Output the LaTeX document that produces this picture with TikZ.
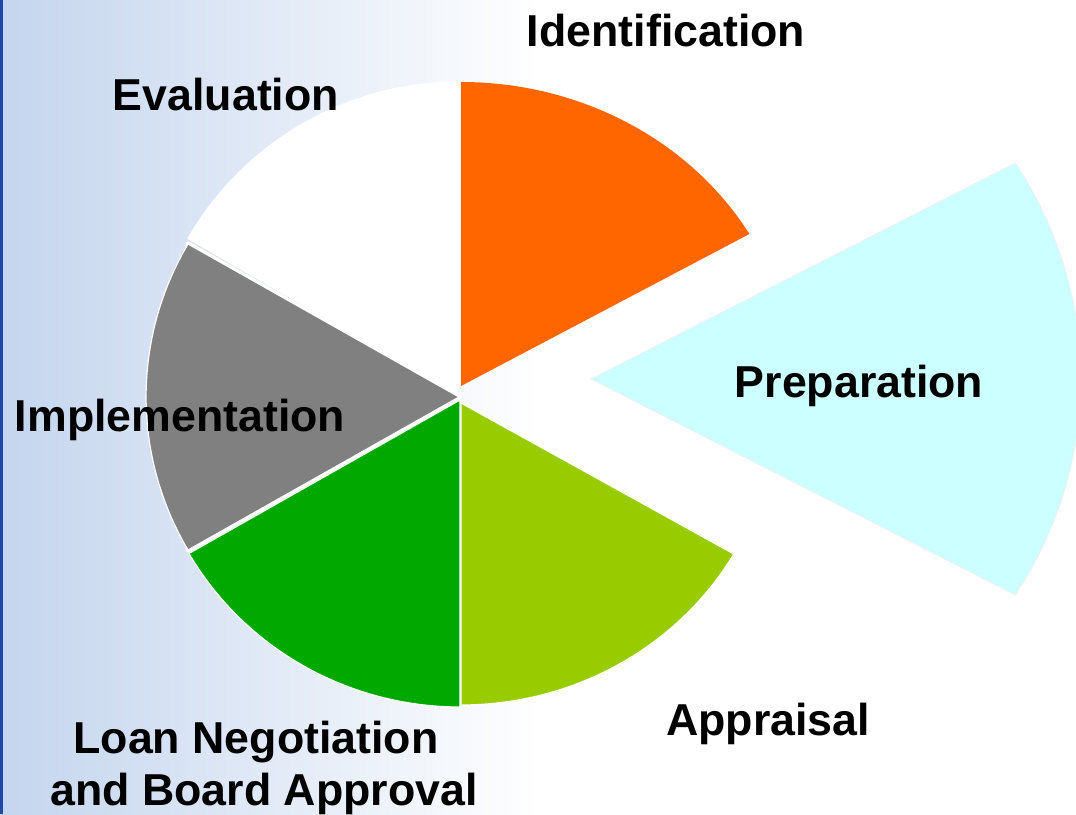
\documentclass[tikz,border=0pt]{standalone}
\usepackage{fontspec}
\setmainfont{Liberation Sans}
\definecolor{bgblue}{RGB}{196,213,238}
\definecolor{bgmid}{RGB}{232,239,248}
\definecolor{edgeblue}{RGB}{32,72,170}
\definecolor{sorange}{RGB}{255,102,0}
\definecolor{scyan}{RGB}{204,255,255}
\definecolor{sygreen}{RGB}{153,204,0}
\definecolor{sgreen}{RGB}{0,168,0}
\definecolor{sgray}{RGB}{128,128,128}
\tikzset{
  slice/.style={draw=white, line width=1.2pt, line join=round},
  under/.style={draw=white, fill=white, line width=5pt, line join=round},
  lbl/.style={anchor=base, inner sep=0pt, font=\fontsize{44.7}{52}\selectfont\bfseries, text=black, align=center}
}
\begin{document}
\begin{tikzpicture}[x=1pt,y=1pt]
\useasboundingbox (0,0) rectangle (1076,814);
% background
\fill[white] (0,0) rectangle (1076,814);
\shade[left color=bgblue, middle color=bgmid, right color=white] (0,0) rectangle (540,814);
\fill[edgeblue] (0,0) rectangle (3,814);
% white underlay closing the thin gaps between the left slices
\path[under] (459,417) -- ++(-271,153) -- ++(0,-306) -- cycle;
% slices
\path[slice, fill=white] (459,419) -- ++(0,313) arc[start angle=90, end angle=150, radius=313pt] -- cycle;
\path[slice, fill=sgray] (459,417) -- ++(-271,153) arc[start angle=150, end angle=210, x radius=313pt, y radius=306pt] -- cycle;
\path[slice, fill=sgreen] (460,414) -- ++(0,-307) arc[start angle=270, end angle=210, x radius=313pt, y radius=307pt] -- cycle;
\path[slice, fill=sygreen] (461,411) -- ++(0,-302) arc[start angle=270, end angle=330, x radius=315pt, y radius=302pt] -- cycle;
\path[fill=sorange] (461,428) -- ++(0,304) arc[start angle=90, end angle=30, x radius=333pt, y radius=304pt] -- cycle;
\path[fill=scyan, draw=black!6, line width=0.8pt] (591,435) -- ++(424.4,216) arc[start angle=30, end angle=-30, x radius=490pt, y radius=432pt] -- cycle;
% labels
\node[lbl] (ident) at (666,767) {Identification};
\node[lbl] (prep) at (859,416) {Preparation};
\node[lbl] (appr) at (768,79) {Appraisal};
\node[lbl] (loan1) at (256,61) {Loan Negotiation};
\node[lbl] (loan2) at (264,9) {and Board Approval};
\node[lbl] (impl) at (180,382) {Implementation};
\node[lbl] (eval) at (226,703) {Evaluation};
\end{tikzpicture}
\end{document}
